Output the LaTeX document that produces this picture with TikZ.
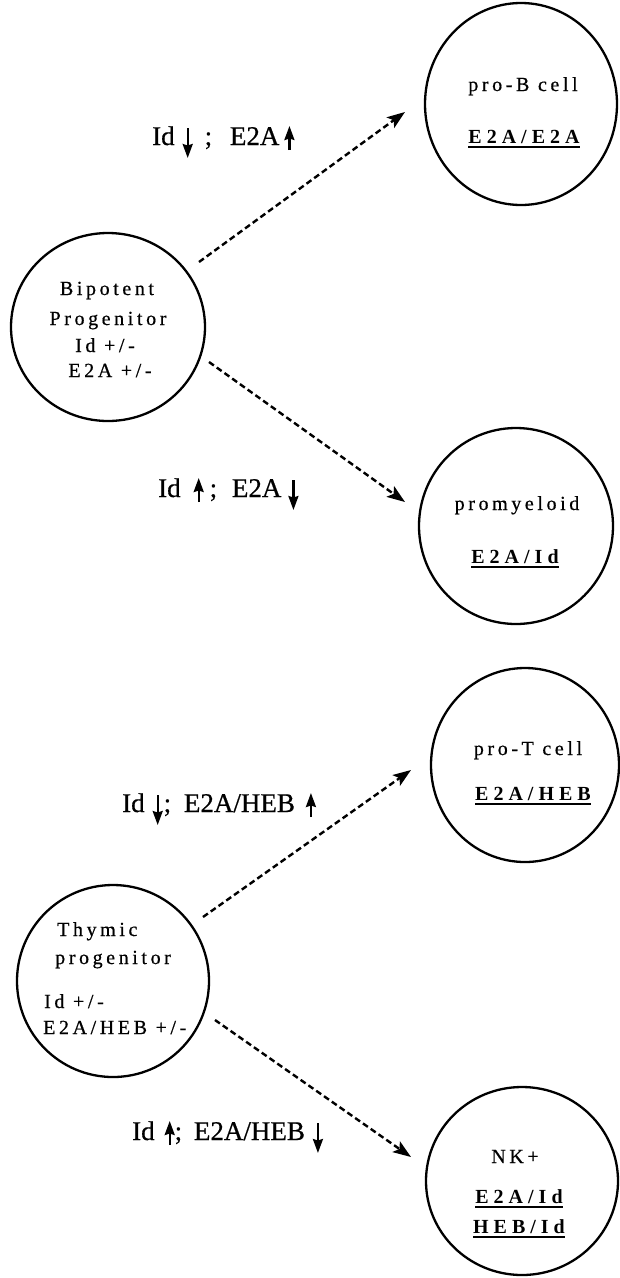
\documentclass[tikz,border=0pt]{standalone}
\usepackage{fontspec}
\setmainfont{Liberation Serif}
\newfontfamily\labfont[FakeBold=0.6]{Liberation Serif}
\newfontfamily\cellfont[LetterSpace=18,FakeBold=0.6]{Liberation Serif}
\newfontfamily\cellbold[LetterSpace=25]{Liberation Serif}
\usetikzlibrary{shapes.geometric,arrows.meta}
\tikzset{
  cell/.style={draw, ellipse, line width=2.3pt, inner sep=0pt},
  intext/.style={inner sep=0pt, anchor=base, font=\cellfont\fontsize{20pt}{22pt}\selectfont},
  inbold/.style={inner sep=0pt, anchor=base, font=\fontsize{20pt}{22pt}\selectfont},
  lab/.style={inner sep=0pt, anchor=base west, font=\labfont\fontsize{27pt}{30pt}\selectfont},
  conn/.style={line width=2.4pt, dash pattern=on 6pt off 3.5pt, -{Stealth[length=18pt,width=13pt,inset=4pt]}},
  vtip/.style={line width=2.2pt, -{Stealth[length=14pt,width=10pt,inset=1.5pt]}}
}
\newcommand\arrdn{\tikz[baseline=0pt]\draw[vtip] (0pt,17pt)--(0pt,-13pt);}
\newcommand\arrup{\tikz[baseline=0pt]\draw[vtip] (0pt,-5pt)--(0pt,19pt);}
\newcommand\ulbold[1]{\setbox0\hbox{\cellbold\bfseries #1}\rlap{\usebox0}\rule[-4.5pt]{\wd0}{1.8pt}}
\begin{document}
\begin{tikzpicture}[x=1pt,y=-1pt]
\useasboundingbox (0,0) rectangle (619,1278);
% top diagram
\node[cell, minimum width=192pt, minimum height=202pt] (proB) at (521,104) {};
\node[cell, minimum width=194pt, minimum height=188pt] (bip) at (108,327) {};
\node[cell, minimum width=194pt, minimum height=196pt] (promy) at (516,526) {};
\node[intext] (tB1) at (523,91) {pro-B cell};
\node[inbold] (tB2) at (524,143) {\ulbold{E2A/E2A}};
\node[intext] (tP1) at (107,295) {Bipotent};
\node[intext] (tP2) at (108,325) {Progenitor};
\node[intext] (tP3) at (105,352) {Id +/-};
\node[intext] (tP4) at (110,377) {E2A +/-};
\node[intext] (tM1) at (517,510) {promyeloid};
\node[inbold] (tM2) at (515,563) {\ulbold{E2A/Id}};
\coordinate (a1s) at (199,262);
\coordinate (a1e) at (405,112);
\coordinate (a2s) at (209,362);
\coordinate (a2e) at (405,502);
\draw[conn] (a1s) -- (a1e);
\draw[conn] (a2s) -- (a2e);
\node[lab] (L1) at (152,145) {Id\hspace{8pt}\arrdn\hspace{12pt}; \hspace{11pt}E2A\hspace{5pt}\arrup};
\node[lab] (L2) at (158,497) {Id\hspace{13pt}\arrup\hspace{6pt}; \hspace{8pt}E2A\hspace{7pt}\arrdn};
% bottom diagram
\node[cell, minimum width=188pt, minimum height=194pt] (proT) at (525,765) {};
\node[cell, minimum width=192pt, minimum height=192pt] (thy) at (113,981) {};
\node[cell, minimum width=192pt, minimum height=188pt] (nk) at (522,1181) {};
\node[intext] (tT1) at (528,755) {pro-T cell};
\node[inbold] (tT2) at (533,800) {\ulbold{E2A/HEB}};
\node[intext, anchor=base west] (tY1) at (57,936) {Thymic};
\node[intext, anchor=base west] (tY2) at (55,964) {progenitor};
\node[intext, anchor=base west] (tY3) at (44,1008) {Id +/-};
\node[intext, anchor=base west] (tY4) at (43,1034) {E2A/HEB +/-};
\node[intext] (tN1) at (515,1163) {NK+};
\node[inbold] (tN2) at (519,1203) {\ulbold{E2A/Id}};
\node[inbold] (tN3) at (519,1233) {\ulbold{HEB/Id}};
\coordinate (a3s) at (203,917);
\coordinate (a3e) at (411,770);
\coordinate (a4s) at (215,1020);
\coordinate (a4e) at (411,1157);
\draw[conn] (a3s) -- (a3e);
\draw[conn] (a4s) -- (a4e);
\node[lab] (L3) at (122,812) {Id\hspace{8pt}\arrdn\hspace{1pt}; \hspace{6pt}E2A/HEB\hspace{11pt}\arrup};
\node[lab] (L4) at (132,1140) {Id\hspace{10pt}\arrup; \hspace{5pt}E2A/HEB\hspace{8pt}\arrdn};
\end{tikzpicture}
\end{document}
